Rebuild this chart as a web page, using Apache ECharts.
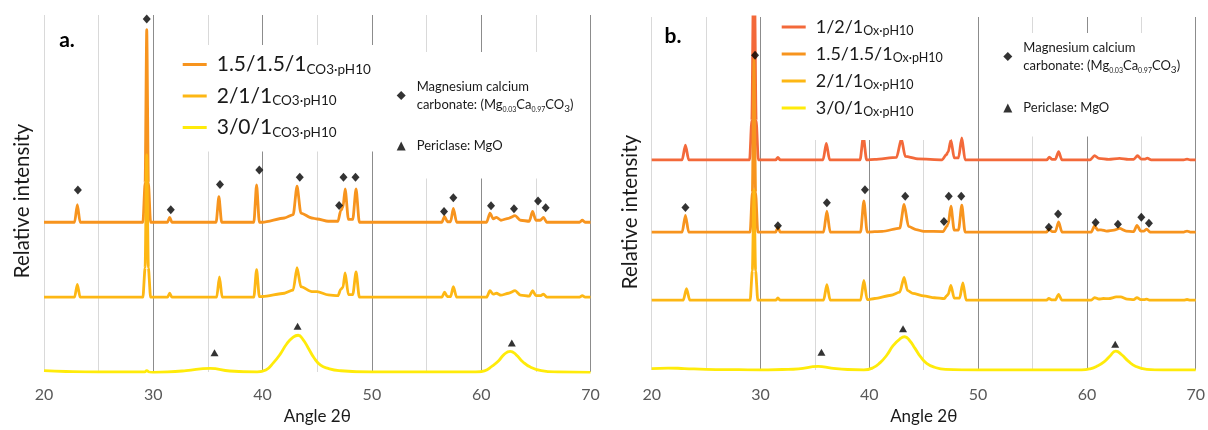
<!DOCTYPE html>
<html>
<head>
<meta charset="utf-8">
<script src="https://cdn.jsdelivr.net/npm/echarts@6/dist/echarts.min.js"></script>
<style>
html,body{margin:0;padding:0;background:#fff;}
#chart{width:1208px;height:430px;}
</style>
</head>
<body>
<div id="chart"></div>
<script>
// ---------- DATA (angle 2θ, relative intensity above each pattern's own baseline) ----------
const xLabelTicks = [20, 30, 40, 50, 60, 70];

// Panel a (CO3, pH10)
const a_15_15_1 = [[20,0],[22.8,0],[23.05,18],[23.3,0],[29.05,0],[29.25,40],[29.4,196],[29.55,40],[29.75,0],[31.3,0],[31.5,5],[31.7,0],[35.75,0],[36.0,26],[36.25,0],[39.2,0],[39.45,38],[39.7,0],[40,0],[42,4.3],[42.8,7.7],[43.15,36.7],[43.5,9.3],[44.5,4.3],[45,3.3],[46,1],[46.9,1],[47.15,12],[47.35,15],[47.55,34],[47.85,3],[48.25,3],[48.55,34],[48.85,0],[56.4,0],[56.65,6],[56.9,0.5],[57.2,0.5],[57.45,14],[57.75,0],[60.5,0],[60.8,9.3],[61.1,3.5],[61.4,5],[61.8,2],[62.5,4],[63.1,6.7],[63.6,2],[64.4,1],[64.7,11],[65.0,2],[65.4,2],[65.7,5],[66.0,0],[69.0,0],[69.25,2],[69.5,0],[70,0]];
const a_2_1_1 = [[20,0],[22.8,0],[23.05,13],[23.3,0],[29.05,0],[29.25,30],[29.4,145],[29.55,30],[29.75,0],[31.3,0],[31.5,4],[31.7,0],[35.8,0],[36.05,20.6],[36.3,0],[39.2,0],[39.45,28],[39.7,0.5],[40,0.7],[42,4],[42.8,7.3],[43.15,30],[43.5,10.7],[44.5,5.7],[45,5.7],[46,2.3],[46.9,1.5],[47.15,8],[47.35,10],[47.55,24.6],[47.85,2.5],[48.25,2.5],[48.55,25.6],[48.85,0],[56.4,0],[56.65,5],[56.9,0.5],[57.2,0.5],[57.45,10.6],[57.75,0],[60.5,0],[60.8,6.6],[61.1,3],[61.4,4],[61.8,2],[62.5,4],[63.1,6.6],[63.6,2],[64.4,1],[64.7,6.6],[65.0,1.5],[65.4,1.5],[65.7,3],[66.0,0],[69.0,0],[69.25,1.6],[69.5,0],[70,0]];
const a_3_0_1 = [[20,1.4],[22,0.5],[25,0],[28,0],[29.2,0],[29.4,1.5],[29.6,0],[30,-0.5],[32,0.5],[33,1.4],[35.2,3.6],[37,1],[39.5,0],[40.3,2],[41,9.6],[41.6,18],[42.2,28.5],[42.8,35.5],[43.25,37.4],[43.7,33],[44.2,24],[44.7,14.5],[45.3,7],[46,3.6],[47,1.4],[50,0],[55,0],[59.5,0],[60.3,1.2],[61,6],[61.6,11.5],[62.1,18],[62.65,21],[63.2,17.5],[63.8,10.5],[64.5,5],[65.5,1.4],[67,0],[70,-0.5]];
const a_offsets = [152.5, 76.2, 0];
const a_diamonds = [[23.1,32.7],[29.4,207],[31.6,12.7],[36.1,38.3],[39.7,53.3],[43.4,45.7],[47.0,17],[47.4,45.7],[48.5,45.7],[56.6,11],[57.45,25],[60.9,16.7],[63.0,13.7],[65.2,21.7],[65.9,14.7]];
const a_triangles = [[35.6,19.6],[43.2,46.6],[62.8,29.5]];

// Panel b (Ox, pH10)
const b_1_2_1 = [[20,0],[22.8,0],[23.1,15],[23.4,0],[29.0,0],[29.2,40],[29.4,230],[29.6,40],[29.8,0],[31.4,0],[31.6,2.5],[31.8,0],[35.75,0],[36.05,16.7],[36.35,0],[39.15,0],[39.45,23.3],[39.75,0],[40.5,0.5],[42.5,2.5],[42.95,21.3],[43.3,3.5],[44.5,1],[46.7,0],[47.05,5],[47.25,8],[47.5,20],[47.8,2],[48.2,2],[48.5,22.3],[48.8,0],[56.3,0],[56.55,2.7],[56.8,0.5],[57.1,0.5],[57.4,8.3],[57.7,0],[60.3,0],[60.7,4.3],[61.1,1.5],[62,0.5],[63,1.5],[63.8,0.5],[64.3,0.5],[64.65,4.3],[65,0.7],[65.3,0.7],[65.55,1.7],[65.9,0],[68.9,0],[69.2,0.8],[69.5,0],[70,0]];
const b_15_15_1 = [[20,0],[22.8,0],[23.1,17],[23.4,0],[29.05,0],[29.25,40],[29.4,175.7],[29.55,40],[29.75,0],[31.4,0],[31.6,4.7],[31.8,0],[35.8,0],[36.1,21.3],[36.4,0],[39.2,0],[39.5,31.7],[39.8,0],[41.2,0.7],[42.8,4],[43.2,28],[43.6,5.7],[44.3,2.5],[45,0.7],[46.8,0.5],[47.1,5.7],[47.25,8],[47.5,26.3],[47.8,2],[48.2,2],[48.5,27.3],[48.8,0],[56.3,0],[56.5,3],[56.8,0.5],[57.1,0.5],[57.4,10.3],[57.7,0],[60.4,0],[60.7,6.3],[61.0,2],[61.3,2.3],[61.8,1],[62.5,2],[63.0,3.7],[63.6,1],[64.3,0.5],[64.6,6.7],[64.95,1],[65.25,1],[65.5,3],[65.8,0],[68.9,0],[69.2,1],[69.5,0],[70,0]];
const b_2_1_1 = [[20,0],[22.9,0],[23.2,11.7],[23.5,0],[29.05,0],[29.25,30],[29.4,112],[29.55,30],[29.75,0],[31.4,0],[31.6,2.3],[31.8,0],[35.8,0],[36.1,15.7],[36.4,0],[39.2,0],[39.5,20],[39.8,0.5],[40.5,1.7],[42,5],[42.8,8.3],[43.2,23.3],[43.5,10],[44,7],[45,4.3],[46,2.5],[46.9,1.5],[47.1,4.3],[47.25,6],[47.5,15],[47.8,2],[48.3,2],[48.6,17.7],[48.9,0],[56.3,0],[56.5,1.7],[56.8,0.3],[57.1,0.3],[57.4,6],[57.7,0],[60.4,0],[60.7,2.7],[61.1,1.2],[61.5,1.7],[62,1.5],[62.7,3.3],[63.1,3.3],[63.7,1],[64.3,0.5],[64.6,2.7],[64.95,0.5],[65.25,0.5],[65.5,1],[65.8,0],[68.9,0],[69.2,0.7],[69.5,0],[70,0]];
const b_3_0_1 = [[20,1.4],[21.5,2],[23,1.5],[25,0.7],[28,0.3],[30,0],[32,0.5],[33.5,1.2],[35.3,3.6],[36.5,2],[38,0.5],[39.5,0],[40.3,2],[41,7.5],[41.6,15],[42.2,25],[42.8,31.5],[43.25,33.8],[43.7,30],[44.2,22],[44.7,13.5],[45.3,6.5],[46,2.8],[47,0.7],[50,0],[55,0],[59.5,0],[60.3,1.2],[61,4.3],[61.6,8.5],[62.1,14],[62.65,19.2],[63.2,15.5],[63.8,9],[64.5,3.6],[65.5,0.7],[67,0],[70,0]];
const b_offsets = [213.7, 140.3, 71, 0];
const b_diamonds = [[23.1,25],[29.5,179.7],[31.6,6.4],[36.1,29.7],[39.6,43],[43.3,36.4],[46.86,10.7],[47.3,36.4],[48.45,36.4],[56.5,5],[57.35,18.4],[60.8,9.7],[62.85,8],[65.0,15],[65.7,9]];
const b_triangles = [[35.6,18.1],[43.1,42],[62.6,26.3]];

const namesA = ['1.5/1.5/1 CO3·pH10', '2/1/1 CO3·pH10', '3/0/1 CO3·pH10'];
const namesB = ['1/2/1 Ox·pH10', '1.5/1.5/1 Ox·pH10', '2/1/1 Ox·pH10', '3/0/1 Ox·pH10'];
const markerNames = ['Magnesium calcium carbonate', 'Periclase: MgO'];

// ---------- STYLE ----------
const C_RED = '#F3693A', C_ORANGE = '#F7941E', C_AMBER = '#FDB714', C_YELLOW = '#FFEB0A';
const colorsA = [C_ORANGE, C_AMBER, C_YELLOW];
const colorsB = [C_RED, C_ORANGE, C_AMBER, C_YELLOW];
const LIGHT = '#d9d9d9', DARK = '#8c8c8c';
const FONT = 'Lato, "Open Sans", sans-serif';

function shift(arr, off) { return arr.map(p => [p[0], p[1] + off]); }

function xAxisFor(grid, labelMargin, nameGap) {
  return {
    type: 'value', gridIndex: grid, min: 20, max: 70, interval: 5,
    axisLine: { show: false }, axisTick: { show: false },
    axisLabel: {
      margin: labelMargin, color: '#595959', fontSize: 16, fontFamily: FONT,
      formatter: v => (xLabelTicks.indexOf(v) >= 0 ? String(v) : '')
    },
    splitLine: { show: true, lineStyle: { width: 1, color: [LIGHT, LIGHT, DARK, LIGHT, DARK, LIGHT, DARK, LIGHT, DARK, LIGHT, DARK] } },
    name: 'Angle 2θ', nameLocation: 'middle', nameGap: nameGap,
    nameTextStyle: { color: '#1a1a1a', fontSize: 17, fontFamily: FONT }
  };
}

function lineSeries(name, data, off, color, xi, yi, broad) {
  return {
    type: 'line', name: name, data: shift(data, off), xAxisIndex: xi, yAxisIndex: yi,
    showSymbol: false, symbol: 'none', smooth: broad ? 0.5 : 0.25, smoothMonotone: broad ? null : 'x',
    lineStyle: { color: color, width: 2.8 }, itemStyle: { color: color },
    clip: true, silent: true
  };
}

function markerSeries(name, data, off, symbol, xi, yi) {
  return {
    type: 'scatter', name: name, data: shift(data, off), xAxisIndex: xi, yAxisIndex: yi,
    symbol: symbol, symbolSize: symbol === 'diamond' ? [8, 9] : [8, 7],
    itemStyle: { color: '#000' }, z: 5, silent: true
  };
}

const series = [];
namesA.forEach((n, i) => series.push(lineSeries(n, [a_15_15_1, a_2_1_1, a_3_0_1][i], a_offsets[i], colorsA[i], 0, 0, i === 2)));
namesB.forEach((n, i) => series.push(lineSeries(n, [b_1_2_1, b_15_15_1, b_2_1_1, b_3_0_1][i], b_offsets[i], colorsB[i], 1, 1, i === 3)));
series.push(markerSeries(markerNames[0], a_diamonds, a_offsets[0], 'diamond', 0, 0));
series.push(markerSeries(markerNames[1], a_triangles, a_offsets[2], 'triangle', 0, 0));
series.push(markerSeries(markerNames[0], b_diamonds, b_offsets[1], 'diamond', 1, 1));
series.push(markerSeries(markerNames[1], b_triangles, b_offsets[3], 'triangle', 1, 1));

function seriesLegend(names, left, top, padding, gap, big, small, lh) {
  return {
    data: names, orient: 'vertical', left: left, top: top, padding: padding, itemGap: gap,
    itemWidth: 24, itemHeight: 3, icon: 'rect', backgroundColor: '#fff', selectedMode: false,
    formatter: n => { const k = n.indexOf(' '); return '{m|' + n.slice(0, k) + '}{s|' + n.slice(k + 1) + '}'; },
    textStyle: { rich: {
      m: { fontSize: big, lineHeight: lh, color: '#1a1a1a', fontFamily: FONT, padding: [0, 0, 0, 5] },
      s: { fontSize: small, lineHeight: lh - 4, color: '#1a1a1a', fontFamily: FONT, verticalAlign: 'bottom' }
    } }
  };
}
function markerLegend(left, top, padding, gap) {
  return {
    data: markerNames, orient: 'vertical', left: left, top: top, padding: padding, itemGap: gap,
    itemWidth: 9, itemHeight: 9, backgroundColor: '#fff', selectedMode: false,
    formatter: n => n === markerNames[0]
      ? '{f|Magnesium calcium}\n{f|carbonate: (Mg}{u|0.03}{t|Ca}{u|0.97}{t|CO}{v|3}{t|)}'
      : '{f|Periclase: MgO}',
    textStyle: { rich: {
      f: { fontSize: 13, lineHeight: 18, color: '#1a1a1a', fontFamily: FONT, padding: [0, 0, 0, 6] },
      t: { fontSize: 13, lineHeight: 18, color: '#1a1a1a', fontFamily: FONT },
      u: { fontSize: 7, lineHeight: 14, color: '#1a1a1a', fontFamily: FONT, verticalAlign: 'bottom' },
      v: { fontSize: 10, lineHeight: 15, color: '#1a1a1a', fontFamily: FONT, verticalAlign: 'bottom' }
    } }
  };
}

const option = {
  animation: false,
  backgroundColor: '#fff',
  grid: [
    { left: 44, top: 15, width: 546.5, height: 363.5 },
    { left: 651.7, top: 17, width: 546, height: 359 }
  ],
  xAxis: [xAxisFor(0, 15, 36), xAxisFor(1, 17, 38)],
  yAxis: [
    { type: 'value', gridIndex: 0, min: 0, max: 363.5, show: false },
    { type: 'value', gridIndex: 1, min: 0, max: 359, show: false }
  ],
  legend: [
    seriesLegend(namesA, 170, 45, [9, 8, 12, 12.7], 9, 21, 13.5, 24),
    markerLegend(385, 52, [28, 8, 26, 11.7], 26),
    seriesLegend(namesB, 775, 17, [1, 8, 22, 6.7], 8, 18, 12.5, 20),
    markerLegend(1000, 33, [8, 5, 22, 3.3], 27)
  ],
  graphic: [
    { type: 'text', x: 22, y: 201, rotation: Math.PI / 2, style: { text: 'Relative intensity', fontSize: 20.5, fontFamily: FONT, fill: '#1a1a1a', textAlign: 'center', textVerticalAlign: 'middle' } },
    { type: 'text', x: 630.6, y: 212, rotation: Math.PI / 2, style: { text: 'Relative intensity', fontSize: 20.5, fontFamily: FONT, fill: '#1a1a1a', textAlign: 'center', textVerticalAlign: 'middle' } },
    { type: 'text', x: 67, y: 40, style: { text: 'a.', fontSize: 21, fontWeight: 'bold', fontFamily: FONT, fill: '#000', textAlign: 'center', textVerticalAlign: 'middle' } },
    { type: 'text', x: 673, y: 36, style: { text: 'b.', fontSize: 21, fontWeight: 'bold', fontFamily: FONT, fill: '#000', textAlign: 'center', textVerticalAlign: 'middle' } }
  ],
  series: series
};

const chart = echarts.init(document.getElementById('chart'), null, { renderer: 'canvas' });
chart.setOption(option);
</script>
</body>
</html>
